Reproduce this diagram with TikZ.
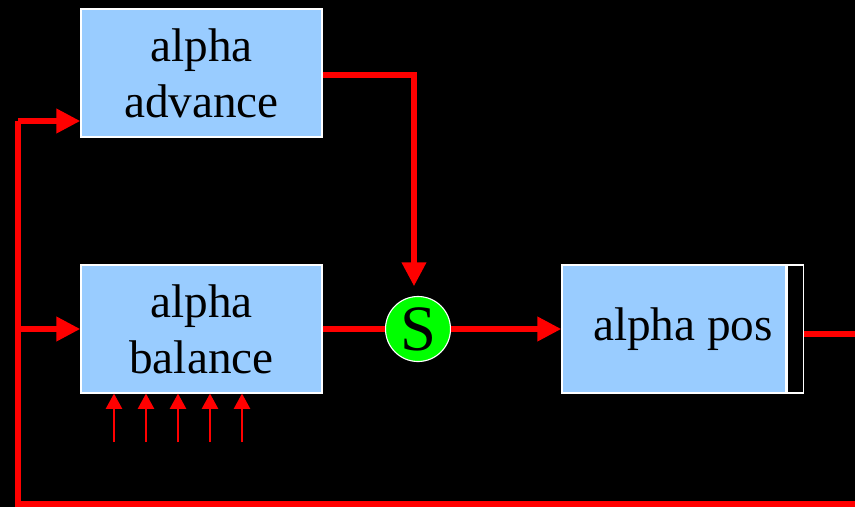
\documentclass[tikz,border=0pt]{standalone}
\usepackage{fontspec}
\setmainfont{Liberation Serif}
\usetikzlibrary{arrows.meta,positioning}
\definecolor{blockblue}{RGB}{153,204,255}
\definecolor{sumgreen}{RGB}{0,255,0}

\begin{document}
\begin{tikzpicture}[x=0.025cm,y=-0.025cm,
		module/.style={rectangle,draw=white,line width=0.8pt,fill=blockblue,minimum width=6.025cm,minimum height=3.2cm,inner sep=0pt,align=center,font=\fontsize{33.6}{39.7}\selectfont},
		register/.style={rectangle,draw=white,line width=0.8pt,fill=black,minimum width=0.4cm,minimum height=3.2cm,inner sep=0pt},
		summer/.style={circle,draw=white,line width=0.8pt,fill=sumgreen,minimum size=1.625cm,inner sep=0pt,font=\fontsize{46}{46}\selectfont},
		sigwire/.style={red,line width=4.3pt},
		sigline/.style={sigwire,-{Triangle[length=0.6cm,width=0.58cm]}},
		inarrow/.style={red,line width=1.5pt,-{Triangle[length=0.38cm,width=0.4cm]}}]
		\useasboundingbox (0,0) rectangle (855,507);
		\fill[black] (0,0) rectangle (855,507);

		% blocks
		\node[module] (adv) at (201.5,73) {alpha\\advance};
		\node[module] (bal) at (201.5,329) {alpha\\balance};
		\node[summer] (sum) at (418,329) {S};
		\node[module,minimum width=5.6cm] (pos) at (674,329) {\hspace*{0.45cm}alpha pos};
		\node[register,anchor=west] (posreg) at (pos.east) {};

		% loop corners
		\coordinate (outR) at (855,334);
		\coordinate (loopBR) at (855,504);
		\coordinate (loopBL) at (18,504);
		\coordinate (loopTL) at (18,121);

		% forward path
		\draw[sigline,shorten >=0.24cm] ([yshift=-0.05cm]adv.east) -| ([xshift=-0.1cm]sum.north);
		\draw[sigwire] (bal.east) -- (sum.west);
		\draw[sigline] (sum.east) -- (pos.west);
		\draw[sigwire] (posreg.east |- outR) -- (outR);

		% feedback
		\draw[sigwire] (loopBR) -- (loopBL) -- (loopTL);
		\draw[sigline] (loopTL) -- (loopTL -| adv.west);
		\draw[sigline] (loopBL |- bal) -- (bal.west);

		% balance inputs
		\foreach \x in {114,146,178,210,242}
			\draw[inarrow] (\x,442) -- (bal.south -| \x,0);
	\end{tikzpicture}
\end{document}
